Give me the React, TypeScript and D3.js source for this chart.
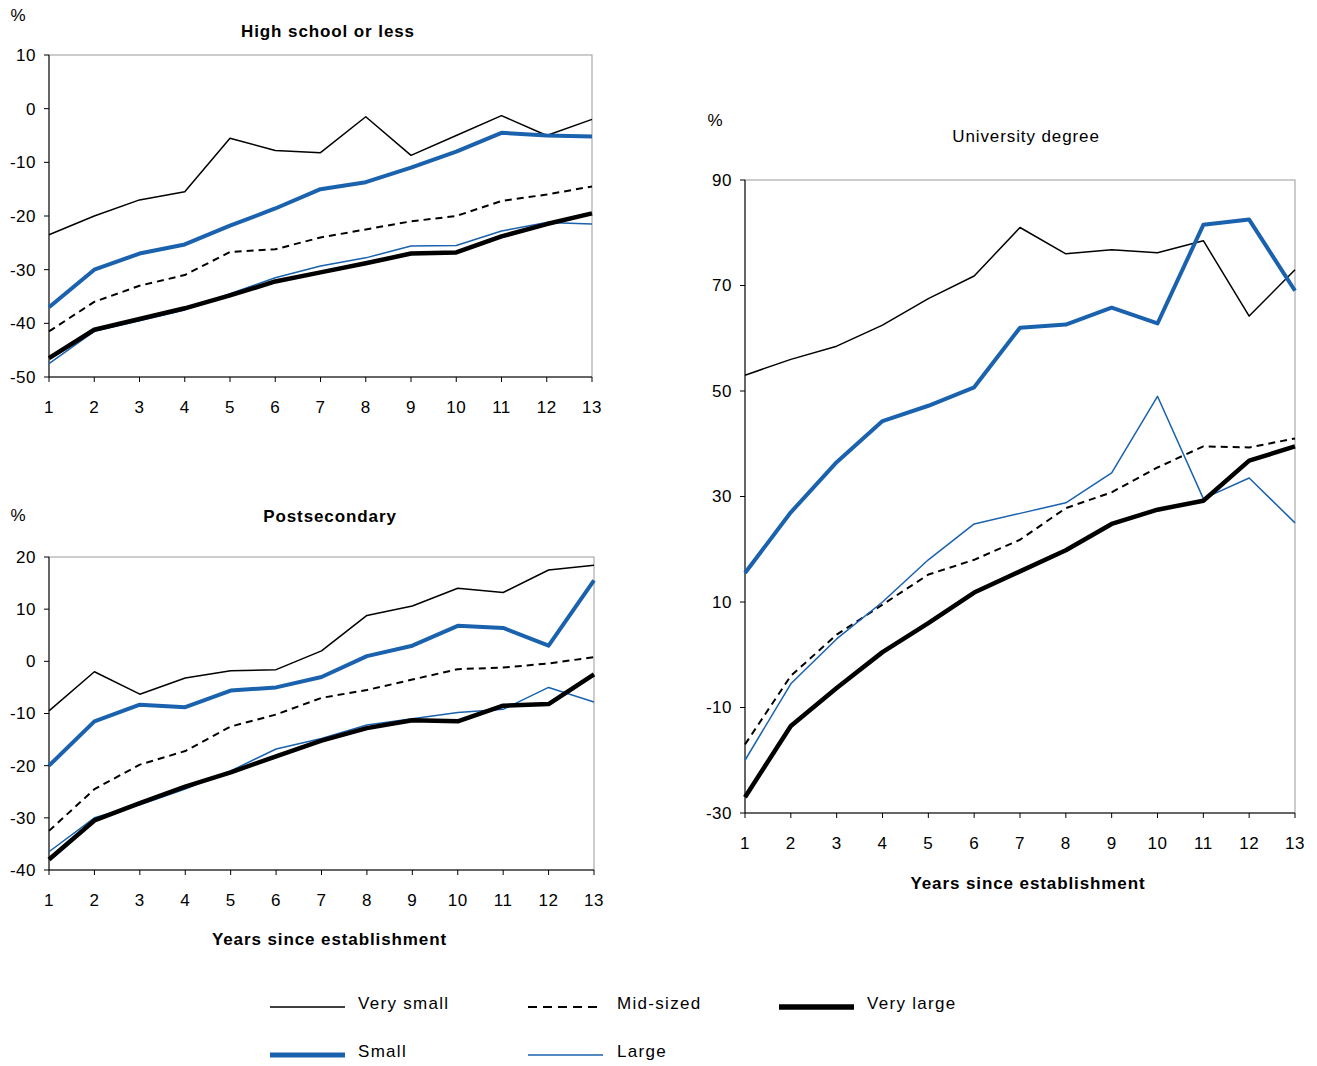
import * as d3 from 'd3'

const years = [1, 2, 3, 4, 5, 6, 7, 8, 9, 10, 11, 12, 13]

const hsVerySmall = [-23.5, -20, -17, -15.5, -5.5, -7.8, -8.2, -1.5, -8.7, -5, -1.3, -5, -2]
const hsSmall = [-37, -30, -27, -25.3, -21.8, -18.6, -15, -13.7, -11, -8, -4.5, -5, -5.2]
const hsMid = [-41.5, -36, -33, -31, -26.7, -26.2, -24, -22.5, -21, -20, -17.2, -16, -14.5]
const hsLarge = [-47.5, -41.5, -39.5, -37.5, -34.5, -31.5, -29.3, -27.8, -25.6, -25.5, -22.8, -21.2, -21.5]
const hsVeryLarge = [-46.5, -41.2, -39.2, -37.2, -34.8, -32.2, -30.5, -28.8, -27, -26.8, -23.8, -21.5, -19.5]

const psVerySmall = [-9.5, -2, -6.3, -3.2, -1.8, -1.6, 2, 8.8, 10.6, 14, 13.2, 17.5, 18.4]
const psSmall = [-20, -11.5, -8.3, -8.8, -5.6, -5, -3, 1, 3, 6.8, 6.4, 3, 15.5]
const psMid = [-32.5, -24.5, -19.8, -17.2, -12.5, -10.2, -7, -5.5, -3.5, -1.5, -1.2, -0.4, 0.8]
const psLarge = [-36.5, -30, -27.5, -24.5, -21, -16.8, -14.8, -12.2, -11, -9.8, -9.2, -5, -7.8]
const psVeryLarge = [-38, -30.5, -27.2, -24, -21.3, -18.2, -15.2, -12.8, -11.3, -11.5, -8.5, -8.2, -2.5]

const uVerySmall = [53, 56, 58.5, 62.5, 67.5, 71.8, 81, 76, 76.8, 76.2, 78.5, 64.2, 73]
const uSmall = [15.5, 27, 36.5, 44.3, 47.2, 50.7, 62, 62.6, 65.8, 62.8, 81.5, 82.5, 69]
const uMid = [-17, -4, 3.8, 9.5, 15.2, 18, 21.8, 27.8, 30.8, 35.5, 39.5, 39.3, 41]
const uLarge = [-20, -5.5, 3, 10, 18, 24.8, 26.8, 28.8, 34.5, 49, 29.6, 33.5, 25]
const uVeryLarge = [-27, -13.5, -6.3, 0.5, 6, 11.8, 15.8, 19.8, 24.8, 27.5, 29.2, 36.8, 39.5]

const BLUE = '#1a62ae'
const styles = [
  { name: 'Very small', color: '#000', width: 1.5, dash: '' },
  { name: 'Small', color: BLUE, width: 4, dash: '' },
  { name: 'Mid-sized', color: '#000', width: 2, dash: '7,5' },
  { name: 'Large', color: BLUE, width: 1.5, dash: '' },
  { name: 'Very large', color: '#000', width: 4.5, dash: '' },
]
// draw order: thin behind thick
const drawOrder = [2, 3, 0, 1, 4]

const FONT = '"Liberation Sans", Arial, sans-serif'

function Panel({ x0, x1, y0, y1, domain, ticks, series, title, bold, titleY, titleX, pct, xTitleY }: any) {
  const x = d3.scaleLinear().domain([1, 13]).range([x0, x1])
  const y = d3.scaleLinear().domain(domain).range([y1, y0])
  const line = d3.line<number>().x((_, i) => x(years[i])).y(d => y(d))
  return (
    <g fontFamily={FONT} fontSize={17}>
      <rect x={x0} y={y0} width={x1 - x0} height={y1 - y0} fill="none" stroke="#999" strokeWidth={1} />
      <line x1={x0} x2={x0} y1={y0} y2={y1} stroke="#000" />
      <line x1={x0} x2={x1} y1={y1} y2={y1} stroke="#000" />
      {ticks.map((t: number) => (
        <g key={t}>
          <line x1={x0 - 5} x2={x0} y1={y(t)} y2={y(t)} stroke="#000" />
          <text x={x0 - 13} y={y(t)} dy="0.35em" textAnchor="end" letterSpacing={0.5}>{t}</text>
        </g>
      ))}
      {years.map(v => (
        <g key={v}>
          <line x1={x(v)} x2={x(v)} y1={y1} y2={y1 + 5} stroke="#000" />
          <text x={x(v)} y={y1 + 36} textAnchor="middle" letterSpacing={0.5}>{v}</text>
        </g>
      ))}
      {drawOrder.map(i => (
        <path key={i} d={line(series[i]) || ''} fill="none" stroke={styles[i].color}
          strokeWidth={styles[i].width} strokeDasharray={styles[i].dash} strokeLinejoin="round" />
      ))}
      <text x={pct[0]} y={pct[1]} textAnchor="middle">%</text>
      <text x={titleX} y={titleY} textAnchor="middle" fontWeight={bold ? 'bold' : 'normal'} letterSpacing={0.9}>{title}</text>
      {xTitleY && (
        <text x={(x0 + x1) / 2 + 8} y={xTitleY} textAnchor="middle" fontWeight="bold" letterSpacing={0.9}>Years since establishment</text>
      )}
    </g>
  )
}

export default function App() {
  const legendCols = [
    { lx: 270, tx: 358 },
    { lx: 528, tx: 617 },
    { lx: 779, tx: 867 },
  ]
  const legendPos = [
    { col: 0, y: 1007 }, { col: 0, y: 1055 }, { col: 1, y: 1007 }, { col: 1, y: 1055 }, { col: 2, y: 1007 },
  ]
  return (
    <svg width={1317} height={1066} style={{ position: 'absolute', left: 0, top: 0, background: '#fff' }}>
      <Panel x0={49} x1={592} y0={55} y1={377} domain={[-50, 10]} ticks={[10, 0, -10, -20, -30, -40, -50]}
        series={[hsVerySmall, hsSmall, hsMid, hsLarge, hsVeryLarge]} title="High school or less" bold
        titleX={328} titleY={37} pct={[18, 21]} />
      <Panel x0={49} x1={594} y0={557} y1={870} domain={[-40, 20]} ticks={[20, 10, 0, -10, -20, -30, -40]}
        series={[psVerySmall, psSmall, psMid, psLarge, psVeryLarge]} title="Postsecondary" bold
        titleX={330} titleY={522} pct={[18, 521]} xTitleY={945} />
      <Panel x0={745} x1={1295} y0={180} y1={813} domain={[-30, 90]} ticks={[90, 70, 50, 30, 10, -10, -30]}
        series={[uVerySmall, uSmall, uMid, uLarge, uVeryLarge]} title="University degree" bold={false}
        titleX={1026} titleY={142} pct={[715, 126]} xTitleY={889} />
      <g fontFamily={FONT} fontSize={17} letterSpacing={1.3}>
        {styles.map((s, i) => {
          const c = legendCols[legendPos[i].col]
          const ly = legendPos[i].y
          return (
            <g key={s.name}>
              <line x1={c.lx} x2={c.lx + 75} y1={ly} y2={ly} stroke={s.color} strokeWidth={s.width === 4 ? 5 : s.width === 4.5 ? 5.5 : s.width}
                strokeDasharray={s.dash ? '9,6' : ''} />
              <text x={c.tx} y={ly} dy="0.1em">{s.name}</text>
            </g>
          )
        })}
      </g>
    </svg>
  )
}
